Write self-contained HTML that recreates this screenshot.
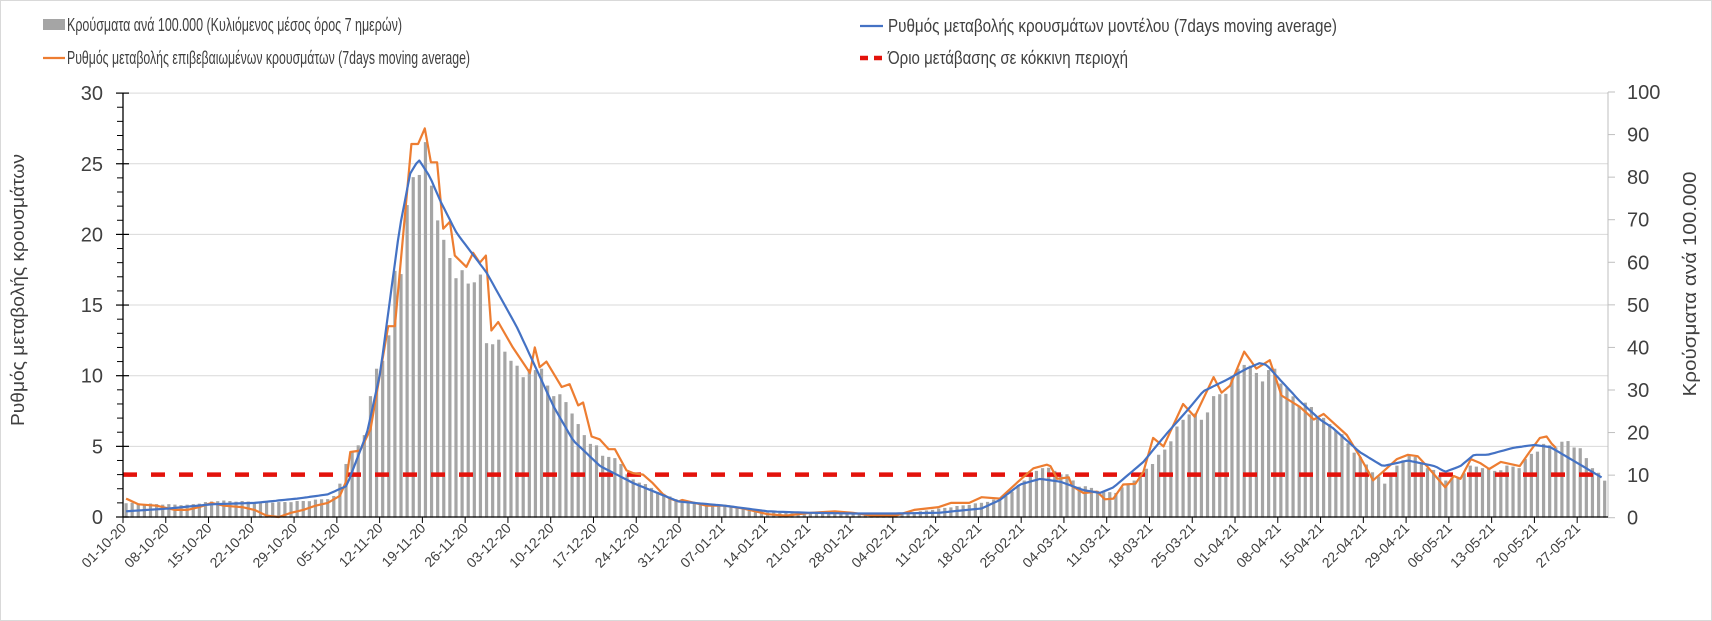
<!DOCTYPE html>
<html><head><meta charset="utf-8"><style>
html,body{margin:0;padding:0;background:#fff;}
svg{display:block;}
text{font-family:"Liberation Sans",sans-serif;fill:#404040;}
</style></head><body>
<svg id="c" width="1712" height="621" viewBox="0 0 1712 621" xmlns="http://www.w3.org/2000/svg">
<rect x="0.5" y="0.5" width="1711" height="620" fill="#fff" stroke="#d9d9d9"/>
<g id="grid"></g>
<g id="bars"></g>
<line x1="123" y1="474.6" x2="1606" y2="474.6" stroke="#e3120b" stroke-width="4.5" stroke-dasharray="14,14"/>
<polyline id="orange" fill="none" stroke="#ed7d31" stroke-width="2.2" stroke-linejoin="round"/>
<polyline id="blue" fill="none" stroke="#4472c4" stroke-width="2.2" stroke-linejoin="round"/>
<g id="axes"></g>
<!-- legend -->
<rect x="43" y="19" width="22" height="11" fill="#a5a5a5"/>
<text x="67" y="31" font-size="18" textLength="335" lengthAdjust="spacingAndGlyphs">Κρούσματα ανά 100.000 (Κυλιόμενος μέσος όρος 7 ημερών)</text>
<line x1="43" y1="58" x2="65" y2="58" stroke="#ed7d31" stroke-width="2.2"/>
<text x="67" y="64" font-size="18" textLength="403" lengthAdjust="spacingAndGlyphs">Ρυθμός μεταβολής επιβεβαιωμένων κρουσμάτων (7days moving average)</text>
<line x1="860" y1="26" x2="883" y2="26" stroke="#4472c4" stroke-width="2.2"/>
<text x="888" y="32" font-size="18" textLength="449" lengthAdjust="spacingAndGlyphs">Ρυθμός μεταβολής κρουσμάτων μοντέλου (7days moving average)</text>
<line x1="860" y1="58" x2="884" y2="58" stroke="#e3120b" stroke-width="4.5" stroke-dasharray="8,6"/>
<text x="888" y="64" font-size="18" textLength="240" lengthAdjust="spacingAndGlyphs">Όριο μετάβασης σε κόκκινη περιοχή</text>
<text transform="translate(24,290) rotate(-90)" text-anchor="middle" font-size="18" textLength="272" lengthAdjust="spacingAndGlyphs">Ρυθμός μεταβολής κρουσμάτων</text>
<text transform="translate(1696,284) rotate(-90)" text-anchor="middle" font-size="18" textLength="225" lengthAdjust="spacingAndGlyphs">Κρούσματα ανά 100.000</text>
</svg>
<script>
var NS="http://www.w3.org/2000/svg";
function el(p,t,a,txt){var e=document.createElementNS(NS,t);for(var k in a)e.setAttribute(k,a[k]);if(txt!==undefined)e.textContent=txt;p.appendChild(e);return e;}
var X0=123,DW=6.11,Y0=517,PU=14.13;
function xd(d){return X0+(d+0.5)*DW;}
function yl(v){return Y0-v*PU;}
function yr(v){return 517.7-v*4.257;}
function interp(k,d){for(var i=0;i<k.length-1;i++){if(d>=k[i][0]&&d<=k[i+1][0]){var t=(d-k[i][0])/(k[i+1][0]-k[i][0]);return k[i][1]+t*(k[i+1][1]-k[i][1]);}}return k[k.length-1][1];}
var grid=document.getElementById('grid'),axes=document.getElementById('axes');
for(var v=5;v<=30;v+=5){el(grid,'line',{x1:123,x2:1608,y1:yl(v),y2:yl(v),stroke:'#d9d9d9','stroke-width':1});}
// left axis
el(axes,'line',{x1:123,x2:123,y1:yl(30),y2:Y0,stroke:'#000','stroke-width':1.3});
for(var v=0;v<=30;v++){var y=yl(v);if(v%5==0){el(axes,'line',{x1:116,x2:129,y1:y,y2:y,stroke:'#000','stroke-width':1.2});el(axes,'text',{x:103,y:y+7,'font-size':20,'text-anchor':'end'},v);}else{el(axes,'line',{x1:117,x2:123,y1:y,y2:y,stroke:'#000','stroke-width':1});}}
// right axis
el(axes,'line',{x1:1608,x2:1608,y1:yr(100),y2:517.7,stroke:'#bfbfbf','stroke-width':1});
for(var v=0;v<=100;v+=10){var y=yr(v);el(axes,'line',{x1:1608,x2:1615,y1:y,y2:y,stroke:'#bfbfbf','stroke-width':1});el(axes,'text',{x:1627,y:y+7,'font-size':20},v);}
// x axis
el(axes,'line',{x1:123,x2:1608,y1:Y0,y2:Y0,stroke:'#000','stroke-width':1.3});
var months=[[31,10],[30,11],[31,12],[31,1],[28,2],[31,3],[30,4],[31,5]];
var dates=[];months.forEach(function(m,i){for(var d=1;d<=m[0];d++){dates.push((d<10?'0':'')+d+'-'+(m[1]<10?'0':'')+m[1]+'-'+(i<3?'20':'21'));}});
for(var d=0;d<243;d+=7){var x=X0+d*DW+ (d>0?0:0);el(axes,'line',{x1:x,x2:x,y1:Y0,y2:Y0+6,stroke:'#000','stroke-width':1});el(axes,'text',{transform:'translate('+(x+4)+','+(Y0+12)+') rotate(-45)','font-size':14,'text-anchor':'end'},dates[d]);}
// bars
var bk=[[0,3.5],[5,3.2],[10,3],[15,4],[20,3.8],[25,3.6],[30,4],[33,4.5],[34,5],[35,8],[36,13],[37,15],[38,17],[39,20],[40,28],[41,35],[42,38],[43,42],[44,58],[45,59],[46,72],[47,80],[48,83],[49,86.5],[50,78],[51,72],[52,64],[53,61],[54,58],[55,57],[56,55],[57,57],[58,56],[59,41],[60,42],[61,41],[62,39],[63,38],[64,35],[65,33],[66,36],[67,34],[68,35],[69,32],[70,28],[71,29],[72,28],[73,24],[74,22],[75,20],[76,17],[77,17],[78,15],[79,14],[80,14],[81,13],[82,10],[83,9],[84,8.5],[86,7],[88,5.5],[90,4.5],[95,3],[100,2.5],[105,1.3],[110,1],[120,1],[126,0.8],[130,1.5],[135,2.5],[140,3.5],[143,4.5],[145,6],[147,9],[148,10],[150,12],[152,11],[154,10],[156,7.5],[158,7],[160,6],[162,6],[164,8],[166,10],[168,13],[170,16],[172,21],[174,25],[176,23],[178,28],[180,30],[182,35],[183,37],[184,35],[186,33],[188,35],[190,30],[192,27],[194,26],[196,23],[198,21],[200,17.5],[202,14],[204,11],[206,8],[208,12],[210,15],[212,13],[214,11],[216,9],[218,9.5],[220,12],[222,12],[224,11],[226,12],[228,12],[230,15],[232,17],[234,17],[236,18],[238,16],[240,12],[242,8.7]];
var bars=document.getElementById('bars');
for(var d=0;d<243;d++){var v=interp(bk,d);var wig=(d%3==0?0.97:(d%3==1?1.02:1.0));v*=wig;var y=yr(v);el(bars,'rect',{x:xd(d)-1.6,y:y,width:3.2,height:517.7-y,fill:'#a5a5a5'});}
// orange
var ok=[[0,1.3],[2,0.9],[5,0.8],[8,0.5],[10,0.5],[12,0.7],[14,1.0],[16,0.8],[19,0.7],[21,0.5],[23,0.1],[25,0.0],[27,0.3],[29,0.5],[31,0.8],[33,1.0],[35,1.5],[36,2.5],[36.7,4.6],[38.3,4.7],[40,6.2],[42.9,13.5],[44,13.5],[46.7,26.4],[47.8,26.4],[48.9,27.5],[49.9,25.1],[50.9,25.1],[51.9,20.4],[53,20.9],[53.8,18.5],[55.7,17.7],[56.8,18.7],[57.9,18],[58.9,18.5],[59.8,13.2],[60.9,13.8],[63.3,12.0],[66.1,10.2],[66.9,12.0],[67.7,10.6],[68.8,11.0],[71.3,9.2],[72.6,9.4],[74,7.9],[74.8,8.1],[76.2,5.7],[77.5,5.5],[79,4.8],[80,4.8],[81.9,3.3],[83,3.1],[84.6,3.0],[86.2,2.4],[87.9,1.6],[89,1.3],[90.4,1.1],[91,1.2],[95,0.8],[98,0.8],[101,0.6],[103,0.4],[105,0.2],[108,0.1],[112,0.3],[116,0.4],[119,0.3],[122,0.1],[126,0.1],[129,0.5],[133,0.7],[135,1.0],[138,1.0],[140,1.4],[143,1.3],[146,2.5],[148.5,3.45],[150.7,3.7],[151.3,3.6],[152.4,2.7],[154.3,2.8],[154.8,2.2],[156.7,1.7],[158.9,1.8],[160.2,1.25],[161.6,1.3],[163.2,2.3],[165.2,2.35],[166.5,3.2],[168.1,5.6],[169.8,5.0],[173,8.0],[174.9,7.1],[178,9.9],[179.3,8.8],[180.7,9.3],[183,11.7],[185,10.5],[187.2,11.1],[189.1,8.6],[192.1,7.8],[194.4,6.9],[196,7.3],[199.8,5.8],[201.9,4.3],[204.1,2.6],[205.7,3.2],[208,4.1],[209.8,4.4],[211.4,4.3],[212.9,3.6],[215.9,2.1],[217.3,2.9],[218.4,2.7],[220.1,4.1],[221.7,3.8],[223.1,3.4],[225,3.9],[228.1,3.6],[229.7,4.6],[231.4,5.6],[232.5,5.7],[233.3,5.2],[234,4.9]];
var pts=[];for(var i=0;i<ok.length;i++){pts.push(xd(ok[i][0]).toFixed(1)+','+yl(ok[i][1]).toFixed(1));}
document.getElementById('orange').setAttribute('points',pts.join(' '));
var bkk=[[0,0.4],[7,0.6],[14,0.9],[21,1.0],[28,1.3],[33,1.6],[36.1,2.2],[39.4,5.9],[41.6,10.2],[43.2,15.4],[44.8,20.5],[46.5,24.3],[47.9,25.3],[49.7,24.1],[51.4,22.4],[54.1,20.1],[59,17.3],[63.9,13.5],[66.7,10.9],[70,7.8],[73.2,5.4],[77.6,3.6],[83,2.4],[90.4,1.1],[98,0.8],[105,0.4],[112,0.3],[119,0.25],[126,0.25],[133,0.3],[140,0.6],[143,1.2],[146.3,2.3],[149.6,2.7],[152.9,2.5],[156.7,1.9],[159.4,1.7],[161.6,2.1],[166.5,3.9],[170.3,5.9],[173.6,7.5],[176.3,8.9],[180.1,9.7],[183.4,10.5],[185.6,10.9],[186.7,10.75],[188.9,9.7],[192.1,8.2],[195.4,6.9],[197.5,6.3],[201.9,4.6],[205.7,3.6],[209.8,4.0],[214.2,3.6],[215.9,3.2],[218.4,3.6],[220.6,4.4],[222.8,4.4],[227.1,4.9],[230.4,5.1],[233.1,4.95],[238,3.7],[241.9,2.7]];
var bp=[];for(var d=0;d<=241.9;d+=0.5){bp.push(xd(d).toFixed(1)+','+yl(interp(bkk,d)).toFixed(1));}
document.getElementById('blue').setAttribute('points',bp.join(' '));
</script>
</body></html>
